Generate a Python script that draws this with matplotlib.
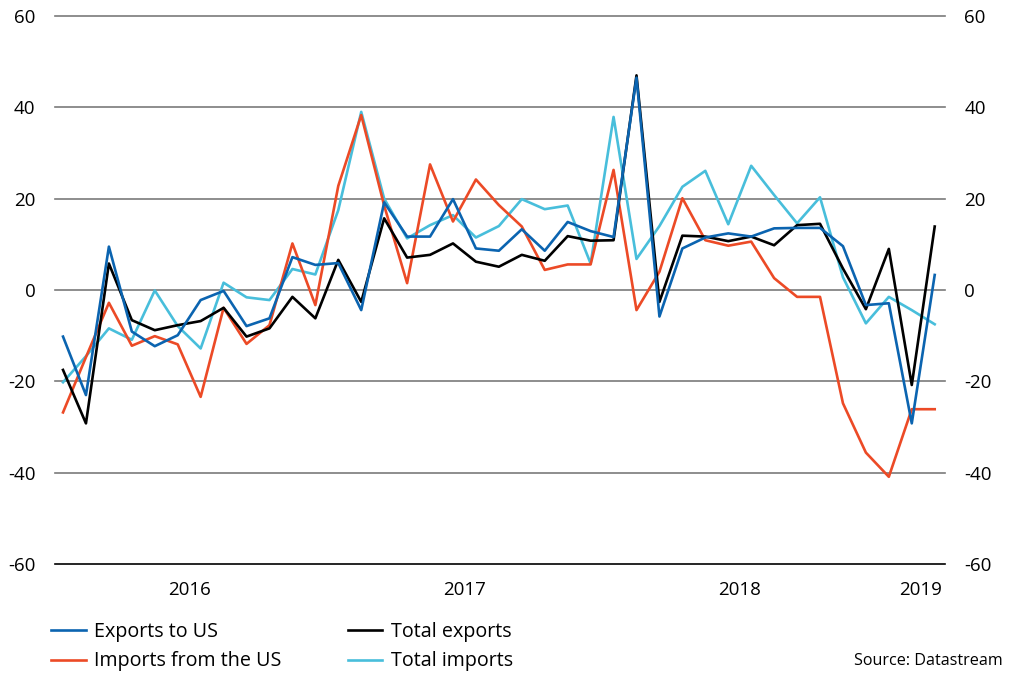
import numpy as np
import matplotlib
matplotlib.use("Agg")
import matplotlib.pyplot as plt

# ------------------------------------------------------------
# Data: monthly % y/y, Jan 2016 - Mar 2019
# ------------------------------------------------------------
exports_to_us = [-10.2, -23.0, 9.5, -9.1, -12.3, -9.9, -2.2, -0.2, -7.9, -6.2,
                 7.2, 5.5, 5.9, -4.4, 19.2, 11.7, 11.7, 19.9, 9.1, 8.6,
                 13.3, 8.6, 14.9, 12.9, 11.6, 46.5, -5.8, 9.1, 11.5, 12.4,
                 11.7, 13.5, 13.6, 13.6, 9.6, -3.3, -2.9, -29.2, 3.3]
imports_from_us = [-26.8, -14.7, -2.8, -12.2, -10.1, -11.9, -23.4, -3.9, -11.8, -7.7,
                   10.2, -3.3, 22.8, 38.3, 18.5, 1.5, 27.5, 15.0, 24.2, 18.6,
                   13.9, 4.4, 5.6, 5.6, 26.3, -4.4, 4.0, 20.1, 10.9, 9.7,
                   10.6, 2.6, -1.5, -1.5, -24.8, -35.6, -40.9, -26.1, -26.1]
total_exports = [-17.5, -29.2, 5.8, -6.6, -8.8, -7.7, -6.8, -3.9, -10.2, -8.4,
                 -1.5, -6.2, 6.6, -2.6, 15.7, 7.1, 7.7, 10.2, 6.2, 5.1,
                 7.7, 6.4, 11.8, 10.8, 10.9, 47.0, -2.6, 11.9, 11.7, 10.7,
                 11.7, 9.8, 14.2, 14.5, 4.7, -4.2, 9.0, -20.8, 13.9]
total_imports = [-20.2, -14.5, -8.4, -10.9, -0.1, -7.9, -12.8, 1.6, -1.6, -2.2,
                 4.6, 3.4, 17.5, 39.0, 20.0, 11.3, 14.2, 16.4, 11.5, 14.0,
                 19.9, 17.7, 18.5, 5.8, 37.9, 6.8, 14.0, 22.6, 26.1, 14.4,
                 27.2, 20.8, 14.6, 20.3, 2.8, -7.3, -1.5, -4.4, -7.5]

years = ["2016", "2017", "2018", "2019"]
year_pos = [5.5, 17.5, 29.5, 37.4]
y_ticks = [-60, -40, -20, 0, 20, 40, 60]

BLUE = "#0b64b0"
RED = "#ec4a26"
BLACK = "#000000"
CYAN = "#48bedb"
GRID = "#7a7a7a"

plt.rcParams['font.family'] = ['Open Sans', 'DejaVu Sans']

fig = plt.figure(figsize=(10.09, 6.75), dpi=100)
ax = fig.add_axes([0.0545, 0.1644, 0.8821, 0.8119])

x = np.arange(len(exports_to_us))
lw = 1.9
l1, = ax.plot(x, exports_to_us, color=BLUE, lw=lw, label="Exports to US", zorder=5)
l2, = ax.plot(x, imports_from_us, color=RED, lw=lw, label="Imports from the US", zorder=3)
l3, = ax.plot(x, total_exports, color=BLACK, lw=lw, label="Total exports", zorder=4)
l4, = ax.plot(x, total_imports, color=CYAN, lw=lw, label="Total imports", zorder=2)

ax.set_xlim(-0.35, 38.45)
ax.set_ylim(-60, 60)

# gridlines (bottom one is black)
for v in y_ticks:
    ax.axhline(v, color=BLACK if v == -60 else GRID, lw=1.2, zorder=1,
               clip_on=False)

for s in ax.spines.values():
    s.set_visible(False)

ax.set_yticks(y_ticks)
ax.set_yticklabels([str(v) for v in y_ticks])
ax.tick_params(axis='y', length=0, labelsize=13.5, pad=14,
               labelleft=True, labelright=True)
ax.set_xticks(year_pos)
ax.set_xticklabels(years)
ax.tick_params(axis='x', length=0, labelsize=13.5, pad=12)

fig.legend(handles=[l1, l2, l3, l4], loc='lower left',
           bbox_to_anchor=(0.033, -0.021), ncol=2, frameon=False,
           fontsize=14.2, handlelength=1.75, handletextpad=0.45,
           columnspacing=3.35, labelspacing=0.5)

fig.text(0.994, 0.009, "Source: Datastream", ha='right', va='bottom',
         fontsize=11.6)

fig.savefig("out.png", dpi=100)
